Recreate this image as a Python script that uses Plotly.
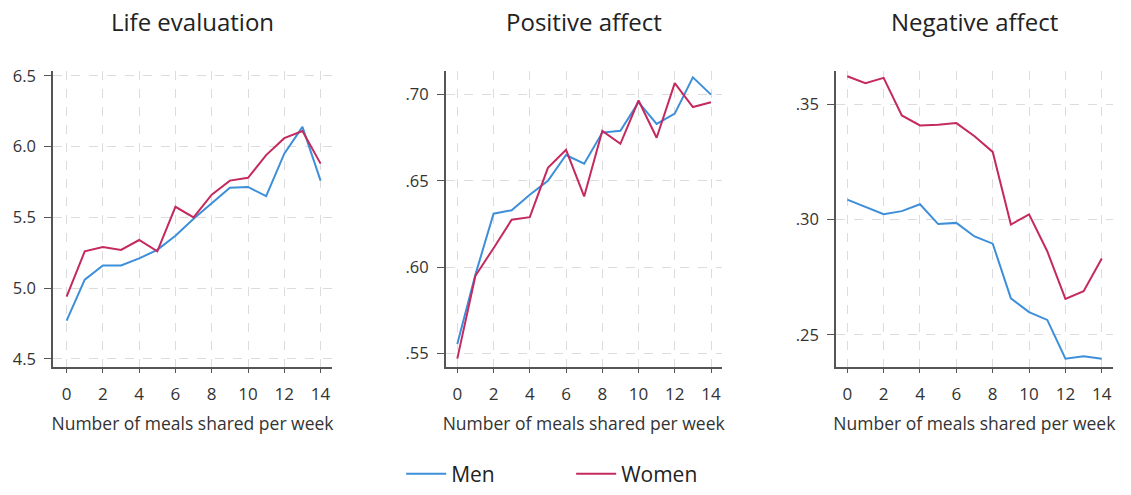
import plotly.graph_objects as go

meals = list(range(15))

life_men = [4.77, 5.06, 5.16, 5.16, 5.21, 5.27, 5.37, 5.49, 5.60, 5.71, 5.715, 5.65, 5.95, 6.14, 5.76]
life_women = [4.94, 5.26, 5.29, 5.27, 5.34, 5.26, 5.575, 5.50, 5.66, 5.76, 5.78, 5.94, 6.06, 6.11, 5.88]

pos_men = [0.5555, 0.5957, 0.631, 0.633, 0.642, 0.650, 0.665, 0.660, 0.678, 0.679, 0.6956, 0.683, 0.689, 0.710, 0.700]
pos_women = [0.547, 0.595, 0.611, 0.6275, 0.629, 0.6576, 0.668, 0.641, 0.679, 0.6715, 0.6966, 0.675, 0.7067, 0.6928, 0.6956]

neg_men = [0.3087, 0.3056, 0.3024, 0.3037, 0.3067, 0.2981, 0.2986, 0.2927, 0.2896, 0.2659, 0.2599, 0.2565, 0.2397, 0.2407, 0.2397]
neg_women = [0.3622, 0.3592, 0.3615, 0.3452, 0.3409, 0.3412, 0.3419, 0.3362, 0.3294, 0.2979, 0.3023, 0.2863, 0.2656, 0.2690, 0.2832]

titles = ["Life evaluation", "Positive affect", "Negative affect"]
x_title = "Number of meals shared per week"
x_ticks = [0, 2, 4, 6, 8, 10, 12, 14]

life_ticks = [4.5, 5.0, 5.5, 6.0, 6.5]
life_ticktext = ["4.5", "5.0", "5.5", "6.0", "6.5"]
pos_ticks = [0.55, 0.60, 0.65, 0.70]
pos_ticktext = [".55", ".60", ".65", ".70"]
neg_ticks = [0.25, 0.30, 0.35]
neg_ticktext = [".25", ".30", ".35"]

MEN_COLOR = "#3d8fd9"
WOMEN_COLOR = "#c42a5f"
FONT = "Open Sans"
W, H = 1131, 495

fig = go.Figure()

panels = [
    (life_men, life_women, "x", "y"),
    (pos_men, pos_women, "x2", "y2"),
    (neg_men, neg_women, "x3", "y3"),
]
for i, (m, w, xa, ya) in enumerate(panels):
    fig.add_trace(go.Scatter(x=meals, y=m, mode="lines", name="Men",
                             line=dict(color=MEN_COLOR, width=2),
                             xaxis=xa, yaxis=ya, showlegend=(i == 0)))
    fig.add_trace(go.Scatter(x=meals, y=w, mode="lines", name="Women",
                             line=dict(color=WOMEN_COLOR, width=2),
                             xaxis=xa, yaxis=ya, showlegend=(i == 0)))

# pixel geometry of each panel
x_dom_px = [(53, 332), (445.7, 721.7), (836, 1112.7)]
y_dom_px = (72, 372)
x_ranges = [[-0.75, 14.63], [-0.64, 14.59], [-0.62, 14.6]]
y_ranges = [[4.444, 6.535], [0.5423, 0.7137], [0.2362, 0.3645]]
y_ticks = [(life_ticks, life_ticktext), (pos_ticks, pos_ticktext), (neg_ticks, neg_ticktext)]

ydom = [1 - y_dom_px[1] / H, 1 - y_dom_px[0] / H]
layout_axes = {}
for i in range(3):
    sfx = "" if i == 0 else str(i + 1)
    xd = [x_dom_px[i][0] / W, x_dom_px[i][1] / W]
    layout_axes["xaxis" + sfx] = dict(
        domain=xd, range=x_ranges[i], tickvals=x_ticks,
        showline=True, linecolor="#555555", linewidth=1.5,
        ticks="outside", ticklen=5, tickcolor="#555555", tickwidth=1,
        ticklabelstandoff=6,
        showgrid=True, gridcolor="#dcdcdc", griddash="dash", gridwidth=1,
        zeroline=False, tickfont=dict(size=17, color="#333333", family=FONT),
        title=dict(text=x_title, font=dict(size=17.5, color="#333333", family=FONT), standoff=14),
        anchor="y" + sfx, automargin=False, fixedrange=True,
    )
    layout_axes["yaxis" + sfx] = dict(
        domain=ydom, range=y_ranges[i], tickvals=y_ticks[i][0], ticktext=y_ticks[i][1],
        showline=True, linecolor="#555555", linewidth=1.5,
        ticks="outside", ticklen=7, tickcolor="#555555", tickwidth=1,
        ticklabelstandoff=5,
        showgrid=True, gridcolor="#dcdcdc", griddash="dash", gridwidth=1,
        zeroline=False, tickfont=dict(size=16.5, color="#333333", family=FONT),
        anchor="x" + sfx, automargin=False, fixedrange=True,
    )
    fig.add_annotation(text=titles[i], x=(xd[0] + xd[1]) / 2, y=1 - 22 / H,
                       xref="paper", yref="paper", showarrow=False,
                       xanchor="center", yanchor="middle",
                       font=dict(size=24, color="#222222", family=FONT))

fig.update_layout(
    width=W, height=H,
    margin=dict(l=0, r=0, t=0, b=0),
    paper_bgcolor="white", plot_bgcolor="white",
    font=dict(family=FONT, color="#333333"),
    legend=dict(orientation="h", x=0.505, xanchor="center", y=1 - 481 / H, yanchor="middle",
                font=dict(size=21, color="#222222", family=FONT),
                entrywidth=115, entrywidthmode="pixels", itemwidth=40, tracegroupgap=0),
    **layout_axes,
)

fig.write_html("out.html")
